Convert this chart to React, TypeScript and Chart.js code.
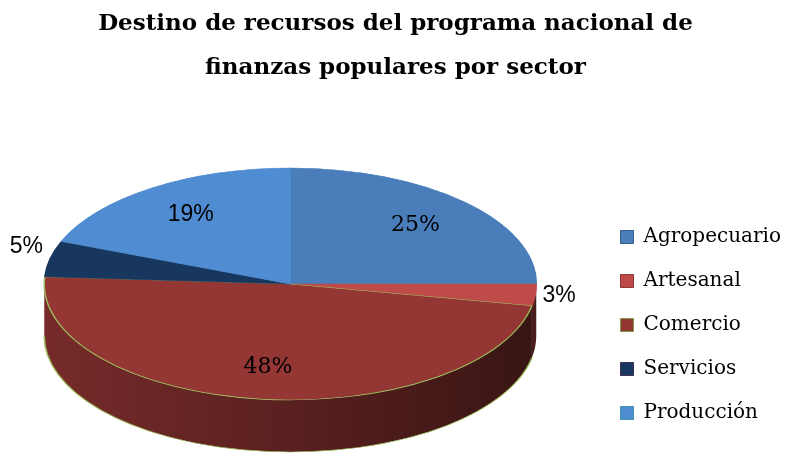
import React, { useEffect, useRef } from 'react';
import { Chart, registerables, DoughnutController } from 'chart.js';

Chart.register(...registerables);

// ---- data ----
const TITLE_LINES = ['Destino de recursos del programa nacional de', 'finanzas populares por sector'];
const CATEGORIES = ['Agropecuario', 'Artesanal', 'Comercio', 'Servicios', 'Producción'];
const SHARES = [25, 3, 48, 5, 19];

// ---- styles ----
const FILL_COLORS = ['#4A7EBB', '#BE4B48', '#943634', '#17375E', '#508CD2'];
const BORDER_COLORS = ['#4A7EBB', '#BE4B48', '#9BBB59', '#17375E', '#508CD2'];
const LEGEND_BORDERS = ['#385D8A', '#8C3836', '#7F9A48', '#403152', '#3F95AE'];
const LABEL_SERIF = [true, false, true, false, false];
const ELLIPSE_RX = 246; // horizontal half-width of the tilted pie (px)
const ELLIPSE_RY = 116; // vertical half-height of the tilted pie (px)
const DEPTH = 52; // thickness of the pie wall (px)
const PIE_SHIFT_X = -8; // horizontal nudge of the tilted pie (px)

function shade(hex: string, f: number): string {
  const n = parseInt(hex.slice(1), 16);
  const r = Math.round(((n >> 16) & 255) * f);
  const g = Math.round(((n >> 8) & 255) * f);
  const b = Math.round((n & 255) * f);
  return `rgb(${r},${g},${b})`;
}

const pie3d = {
  id: 'pie3d',
  beforeDatasetsDraw(chart: any) {
    const arcs = chart.getDatasetMeta(0).data;
    const ctx = chart.ctx;
    ctx.save();
    if (!arcs.length) return;
    const { x, y, outerRadius: R } = arcs[0].getProps(['x', 'y', 'outerRadius'], true);
    const kx = ELLIPSE_RX / R;
    const ky = ELLIPSE_RY / R;
    ctx.translate(x + PIE_SHIFT_X, y);
    ctx.scale(kx, ky);
    ctx.translate(-x, -y);
    const d = DEPTH / ky;
    arcs.forEach((arc: any, i: number) => {
      const { startAngle: s, endAngle: e } = arc.getProps(['startAngle', 'endAngle'], true);
      for (let k = -1; k <= 1; k++) {
        const lo = Math.max(s, 2 * Math.PI * k);
        const hi = Math.min(e, 2 * Math.PI * k + Math.PI);
        if (hi <= lo) continue;
        const grad = ctx.createLinearGradient(x - R, 0, x + R, 0);
        grad.addColorStop(0, shade(FILL_COLORS[i], 0.8));
        grad.addColorStop(0.5, shade(FILL_COLORS[i], 0.6));
        grad.addColorStop(1, shade(FILL_COLORS[i], 0.38));
        ctx.beginPath();
        ctx.arc(x, y, R, lo, hi);
        ctx.arc(x, y + d, R, hi, lo, true);
        ctx.closePath();
        ctx.fillStyle = grad;
        ctx.fill();
        if (BORDER_COLORS[i] !== FILL_COLORS[i]) {
          ctx.lineWidth = 1;
          ctx.strokeStyle = BORDER_COLORS[i];
          ctx.beginPath();
          ctx.arc(x, y + d, R, lo, hi);
          ctx.stroke();
        }
      }
    });
  },
  afterDatasetsDraw(chart: any) {
    const ctx = chart.ctx;
    ctx.restore();
    const arcs = chart.getDatasetMeta(0).data;
    if (!arcs.length) return;
    const total = SHARES.reduce((a, b) => a + b, 0);
    ctx.save();
    arcs.forEach((arc: any, i: number) => {
      const { x, y, startAngle: s, endAngle: e } = arc.getProps(['x', 'y', 'startAngle', 'endAngle'], true);
      const mid = (s + e) / 2;
      const small = SHARES[i] / total < 0.06;
      const f = small ? 1.03 : 0.72;
      const px = x + PIE_SHIFT_X + Math.cos(mid) * f * ELLIPSE_RX;
      const py = y + Math.sin(mid) * f * ELLIPSE_RY;
      ctx.font = LABEL_SERIF[i] ? "22px 'DejaVu Serif'" : "23px 'Liberation Sans'";
      ctx.fillStyle = '#000';
      ctx.textBaseline = small && Math.sin(mid) < 0 ? 'bottom' : 'middle';
      ctx.textAlign = small ? (Math.cos(mid) > 0 ? 'left' : 'right') : 'center';
      ctx.fillText(`${SHARES[i]}%`, px, py);
    });
    ctx.restore();
  },
};

export default function App() {
  const ref = useRef<HTMLCanvasElement | null>(null);
  useEffect(() => {
    if (!ref.current) return;
    const baseLabels = (DoughnutController as any).overrides.plugins.legend.labels.generateLabels;
    const chart = new Chart(ref.current, {
      type: 'pie',
      data: {
        labels: CATEGORIES,
        datasets: [
          {
            data: SHARES,
            backgroundColor: FILL_COLORS,
            borderColor: BORDER_COLORS,
            borderWidth: 1,
            clip: false,
          } as any,
        ],
      },
      options: {
        responsive: false,
        animation: false,
        events: [],
        layout: { padding: { left: 0, right: -2, top: 0, bottom: 13 } },
        plugins: {
          title: {
            display: true,
            text: TITLE_LINES,
            color: '#000',
            font: { family: "'DejaVu Serif'", size: 23, weight: 'bold', lineHeight: 1.913 },
            padding: { top: 2, bottom: 31 },
          },
          legend: {
            position: 'right',
            align: 'end',
            labels: {
              color: '#000',
              font: { family: "'DejaVu Serif'", size: 20 },
              boxWidth: 13,
              boxHeight: 13,
              padding: 24,
              generateLabels: (c: any) =>
                baseLabels(c).map((it: any, i: number) => ({ ...it, strokeStyle: LEGEND_BORDERS[i], lineWidth: 1 })),
            },
          },
          tooltip: { enabled: false },
        },
      } as any,
      plugins: [pie3d],
    });
    return () => chart.destroy();
  }, []);
  return (
    <div style={{ position: 'fixed', left: 0, top: 0, width: 789, height: 460, background: '#fff' }}>
      <canvas ref={ref} width={789} height={460} style={{ display: 'block' }} />
    </div>
  );
}
